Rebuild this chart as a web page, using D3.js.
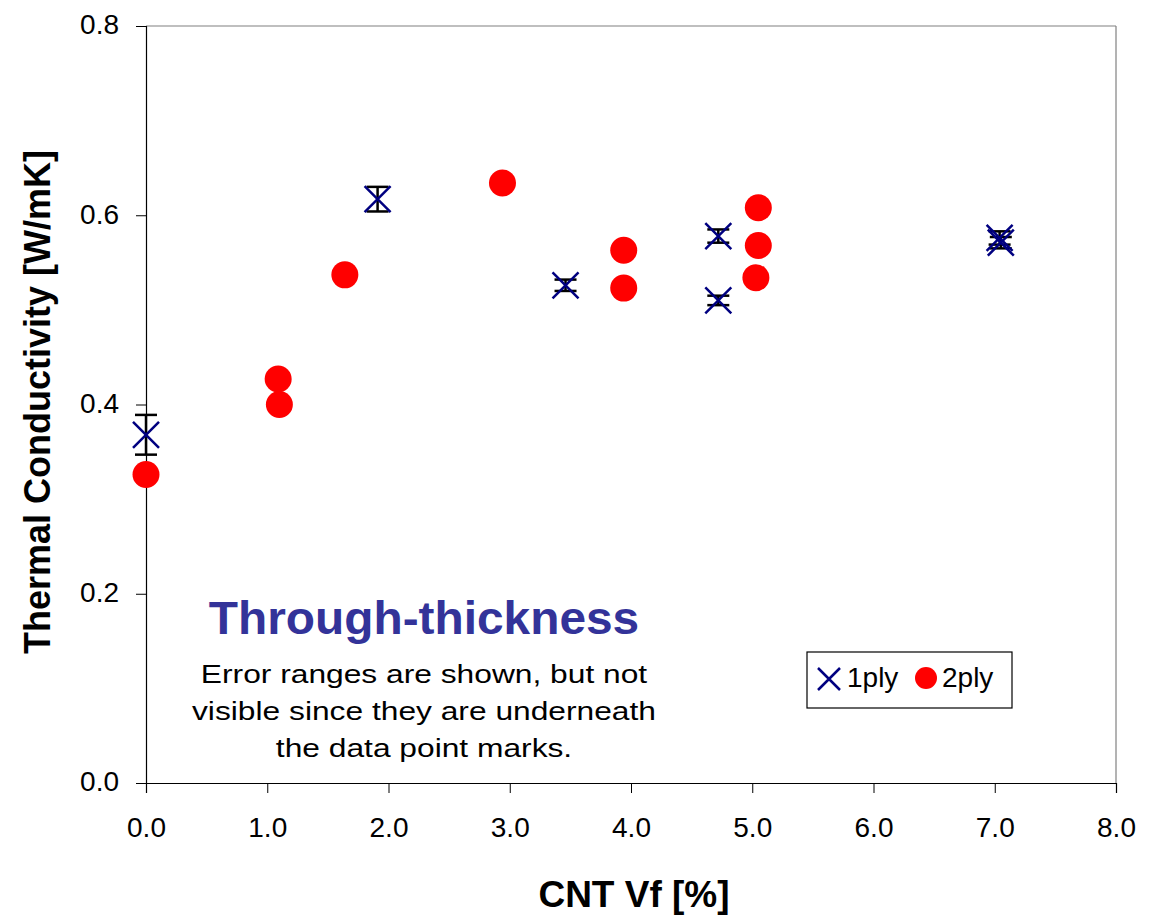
<!DOCTYPE html>
<html>
<head>
<meta charset="utf-8">
<script src="https://cdn.jsdelivr.net/npm/d3@7"></script>
<style>
  body { margin: 0; background: #fff; }
  text { font-family: "Liberation Sans", Arial, sans-serif; }
</style>
</head>
<body>
<script>
// 1ply samples: CNT Vf, conductivity, error half-range
const ply1X = [0.0, 1.91, 3.46, 4.72, 4.72, 7.04, 7.05]
const ply1Y = [0.368, 0.617, 0.526, 0.578, 0.510, 0.576, 0.571]
const ply1Err = [0.021, 0.013, 0.006, 0.007, 0.005, 0.007, 0.006]

// 2ply samples
const ply2X = [0.0, 1.09, 1.10, 1.64, 2.94, 3.94, 3.94, 5.05, 5.05, 5.03]
const ply2Y = [0.326, 0.427, 0.400, 0.537, 0.634, 0.563, 0.523, 0.608, 0.568, 0.534]

const xTicks = [0, 1, 2, 3, 4, 5, 6, 7, 8]
const yTicks = [0, 0.2, 0.4, 0.6, 0.8]

const notes = ['Error ranges are shown, but not', 'visible since they are underneath', 'the data point marks.']

const m = { width: 1153, height: 916, left: 146, right: 1116, top: 26, bottom: 783 }

const svg = d3.select('body').append('svg')
    .attr('width', m.width)
    .attr('height', m.height)

const x = d3.scaleLinear().domain([0, 8]).range([m.left, m.right])
const y = d3.scaleLinear().domain([0, 0.8]).range([m.bottom, m.top])

// frame: top and right edges are grey
svg.append('line')
    .attr('x1', m.left).attr('x2', m.right).attr('y1', m.top).attr('y2', m.top)
    .attr('stroke', '#808080').attr('stroke-width', 1.2)
svg.append('line')
    .attr('x1', m.right).attr('x2', m.right).attr('y1', m.top).attr('y2', m.bottom)
    .attr('stroke', '#808080').attr('stroke-width', 1.2)

const xAxis = svg.append('g')
    .attr('transform', `translate(0,${m.bottom})`)
    .call(d3.axisBottom(x).tickValues(xTicks).tickFormat(d3.format('.1f')).tickSize(10).tickPadding(24))
xAxis.select('.domain').attr('stroke', '#000').attr('stroke-width', 1.2)
xAxis.selectAll('.tick line').attr('stroke', '#000')
xAxis.selectAll('text').attr('font-size', 28).attr('fill', '#000')

const yAxis = svg.append('g')
    .attr('transform', `translate(${m.left},0)`)
    .call(d3.axisLeft(y).tickValues(yTicks).tickFormat(d3.format('.1f')).tickSize(10).tickPadding(17))
yAxis.select('.domain').attr('stroke', '#000').attr('stroke-width', 1.2)
yAxis.selectAll('.tick line').attr('stroke', '#000')
yAxis.selectAll('text').attr('font-size', 28).attr('fill', '#000').attr('dy', '0.28em')

// axis titles
svg.append('text')
    .attr('x', 634).attr('y', 907)
    .attr('text-anchor', 'middle')
    .attr('font-size', 37).attr('font-weight', 'bold')
    .text('CNT Vf [%]')

svg.append('text')
    .attr('transform', 'translate(50,402) rotate(-90)')
    .attr('text-anchor', 'middle')
    .attr('font-size', 36).attr('font-weight', 'bold')
    .text('Thermal Conductivity [W/mK]')

// 2ply circles
svg.append('g').selectAll('circle')
    .data(ply2X)
    .enter()
    .append('circle')
        .attr('cx', d => x(d))
        .attr('cy', (d, i) => y(ply2Y[i]))
        .attr('r', 13.5)
        .attr('fill', '#ff0000')

// 1ply error bars
const eb = svg.append('g').attr('stroke', '#000').attr('stroke-width', 2.5)
ply1X.forEach(function(d, i) {
    const cx = x(d)
    const y0 = y(ply1Y[i] - ply1Err[i])
    const y1 = y(ply1Y[i] + ply1Err[i])
    eb.append('line').attr('x1', cx).attr('x2', cx).attr('y1', y0).attr('y2', y1)
    eb.append('line').attr('x1', cx - 11).attr('x2', cx + 11).attr('y1', y0).attr('y2', y0)
    eb.append('line').attr('x1', cx - 11).attr('x2', cx + 11).attr('y1', y1).attr('y2', y1)
})

// 1ply crosses
const cross = 13
svg.append('g').selectAll('path')
    .data(ply1X)
    .enter()
    .append('path')
        .attr('d', function(d, i) {
            const cx = x(d), cy = y(ply1Y[i])
            return `M${cx - cross},${cy - cross}L${cx + cross},${cy + cross}M${cx - cross},${cy + cross}L${cx + cross},${cy - cross}`
        })
        .attr('stroke', '#000080')
        .attr('stroke-width', 2.5)
        .attr('fill', 'none')

// annotation (original text box is stretched horizontally)
svg.append('text')
    .attr('transform', 'translate(424,634) scale(1.04,1)')
    .attr('text-anchor', 'middle')
    .attr('font-size', 46).attr('font-weight', 'bold')
    .attr('fill', '#333399')
    .text('Through-thickness')

svg.append('g')
    .attr('transform', 'translate(424,0) scale(1.27,1)')
    .selectAll('text')
    .data(notes)
    .enter()
    .append('text')
        .attr('x', 0)
        .attr('y', (d, i) => 683 + i * 37)
        .attr('text-anchor', 'middle')
        .attr('font-size', 25)
        .text(d => d)

// legend
const lg = svg.append('g')
lg.append('rect')
    .attr('x', 807).attr('y', 652).attr('width', 205).attr('height', 56)
    .attr('fill', '#fff').attr('stroke', '#000').attr('stroke-width', 1.2)
lg.append('path')
    .attr('d', 'M818,668L840,690M818,690L840,668')
    .attr('stroke', '#000080').attr('stroke-width', 2.5)
lg.append('text').attr('x', 847).attr('y', 687).attr('font-size', 28).text('1ply')
lg.append('circle').attr('cx', 926).attr('cy', 678).attr('r', 11).attr('fill', '#ff0000')
lg.append('text').attr('x', 942).attr('y', 687).attr('font-size', 28).text('2ply')
</script>
</body>
</html>
